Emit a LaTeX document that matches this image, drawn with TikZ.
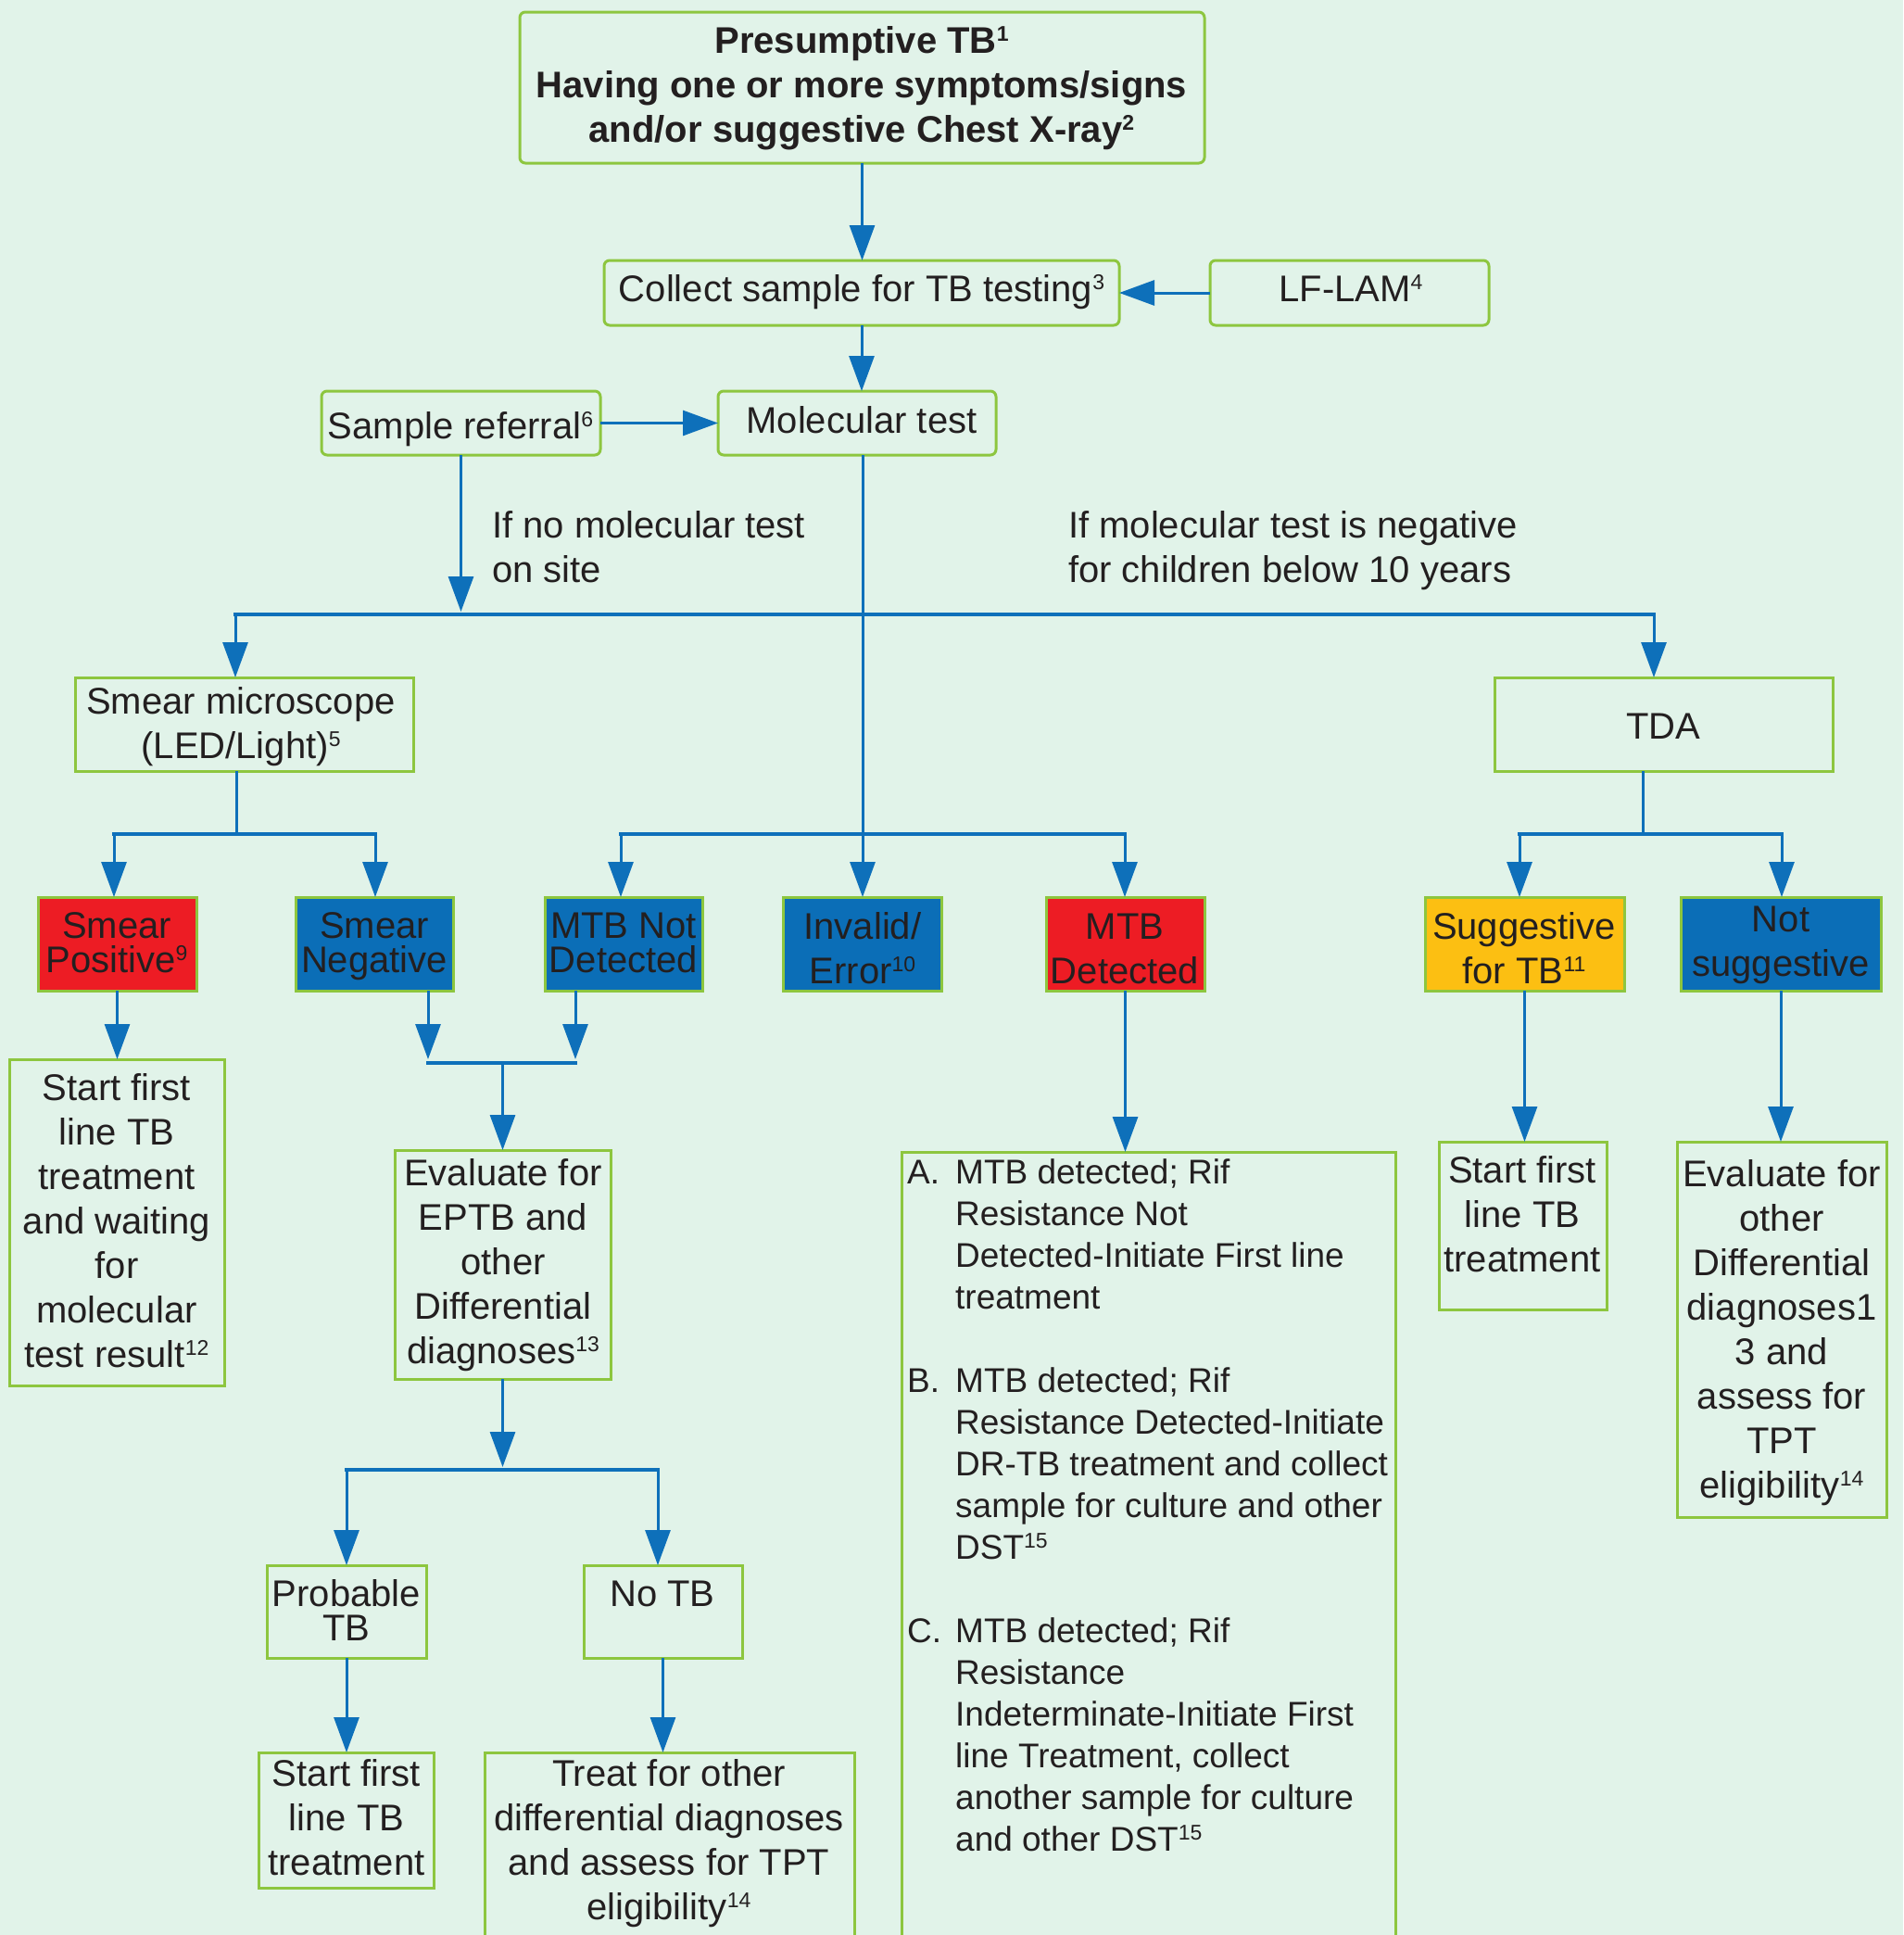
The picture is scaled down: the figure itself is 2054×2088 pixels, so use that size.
\documentclass[tikz,border=0pt]{standalone}
\usepackage{fontspec}
\setmainfont{Liberation Sans}
\usetikzlibrary{arrows.meta}
\definecolor{bg}{RGB}{225,243,233}
\definecolor{bord}{RGB}{141,198,63}
\definecolor{lineblue}{RGB}{14,112,186}
\definecolor{boxblue}{RGB}{11,110,183}
\definecolor{boxred}{RGB}{237,28,36}
\definecolor{boxyel}{RGB}{252,191,18}
\definecolor{txt}{RGB}{35,31,32}
\newcommand{\supn}[1]{\raisebox{0.6ex}{\fontsize{23}{23}\selectfont #1}}
\newcommand{\mkbox}[6]{\node[#6, minimum width={(#4)-(#2)}, minimum height={(#5)-(#3)}] (#1) at ({((#2)+(#4))/2},{((#3)+(#5))/2}) {};}
\newcommand{\ctxt}[4]{\node[anchor=base,inner sep=0pt] (#1) at (#2,#3) {\parbox[t]{900pt}{\centering #4}};}
\begin{document}
\begin{tikzpicture}[x=1pt,y=-1pt,
  every node/.style={font=\fontsize{40}{48}\selectfont, text=txt},
  bx/.style={draw=bord, line width=3pt, inner sep=0pt, outer sep=0pt},
  rbx/.style={bx, rounded corners=6pt},
  redbx/.style={bx, fill=boxred},
  bluebx/.style={bx, fill=boxblue},
  yelbx/.style={bx, fill=boxyel},
  arr/.style={draw=lineblue, line width=3pt, -{Triangle[length=38pt,width=27pt]}},
  ln/.style={draw=lineblue, line width=3pt},
  bar/.style={draw=lineblue, line width=4.5pt, line cap=rect}]
\useasboundingbox (0,0) rectangle (2054,2088);
\fill[bg] (0,0) rectangle (2054,2088);

% boxes
\mkbox{top}{561}{13}{1300}{176}{rbx}
\mkbox{collect}{652}{281}{1208}{351}{rbx}
\mkbox{lflam}{1306}{281}{1607}{351}{rbx}
\mkbox{ref}{347}{422}{648}{491}{rbx}
\mkbox{mol}{775}{422}{1075}{491}{rbx}
\mkbox{smear}{81}{731}{446}{832}{bx}
\mkbox{tda}{1613}{731}{1978}{832}{bx}
\mkbox{spos}{41}{968}{212}{1069}{redbx}
\mkbox{sneg}{319}{968}{489}{1069}{bluebx}
\mkbox{mtbnd}{588}{968}{758}{1069}{bluebx}
\mkbox{inval}{845}{968}{1016}{1069}{bluebx}
\mkbox{mtbd}{1129}{968}{1300}{1069}{redbx}
\mkbox{sugg}{1538}{968}{1753}{1069}{yelbx}
\mkbox{nsugg}{1814}{968}{2030}{1069}{bluebx}
\mkbox{startL}{10}{1143}{242}{1495}{bx}
\mkbox{evalE}{426}{1241}{659}{1488}{bx}
\mkbox{startR}{1553}{1232}{1734}{1413}{bx}
\mkbox{evalR}{1810}{1232}{2036}{1637}{bx}
\mkbox{mtbbox}{973}{1243}{1506}{2110}{bx}
\mkbox{prob}{288}{1689}{460}{1789}{bx}
\mkbox{notb}{630}{1689}{801}{1789}{bx}
\mkbox{startB}{279}{1891}{468}{2037}{bx}
\mkbox{treat}{523}{1891}{922}{2110}{bx}

% texts
\ctxt{ttop}{930}{57}{\bfseries Presumptive TB\supn{1}\\Having one or more symptoms/signs\\and/or suggestive Chest X-ray\supn{2}}
\ctxt{tcollect}{930}{325}{Collect sample for TB testing\supn{3}}
\ctxt{tlflam}{1458}{325}{LF-LAM\supn{4}}
\ctxt{tref}{497}{473}{Sample referral\supn{6}}
\ctxt{tmol}{930}{467}{Molecular test}
\node[anchor=base west,inner sep=0pt] (lab1) at (531,580) {\parbox[t]{600pt}{\raggedright If no molecular test\\on site}};
\node[anchor=base west,inner sep=0pt] (lab2) at (1153,580) {\parbox[t]{700pt}{\raggedright If molecular test is negative\\for children below 10 years}};
\ctxt{tsmear}{260}{770}{Smear microscope\\(LED/Light)\supn{5}}
\ctxt{ttda}{1795}{797}{TDA}
\ctxt{tspos}{126}{1012}{\fontsize{40}{37}\selectfont Smear\\Positive\supn{9}}
\ctxt{tsneg}{404}{1012}{\fontsize{40}{37}\selectfont Smear\\Negative}
\ctxt{tmtbnd}{673}{1012}{\fontsize{40}{37}\selectfont MTB Not\\Detected}
\ctxt{tinv}{931}{1013}{Invalid/\\Error\supn{10}}
\ctxt{tmtbd}{1214}{1013}{MTB\\Detected}
\ctxt{tsugg}{1645}{1013}{Suggestive\\for TB\supn{11}}
\ctxt{tnsugg}{1922}{1005}{Not\\suggestive}
\ctxt{tstartL}{126}{1187}{Start first\\line TB\\treatment\\and waiting\\for\\molecular\\test result\supn{12}}
\ctxt{tevalE}{543}{1279}{Evaluate for\\EPTB and\\other\\Differential\\diagnoses\supn{13}}
\ctxt{tprob}{374}{1733}{\fontsize{40}{37}\selectfont Probable\\TB}
\ctxt{tnotb}{715}{1733}{No TB}
\ctxt{tstartB}{374}{1927}{Start first\\line TB\\treatment}
\ctxt{ttreat}{722}{1927}{Treat for other\\differential diagnoses\\and assess for TPT\\eligibility\supn{14}}
\ctxt{tstartR}{1643}{1276}{Start first\\line TB\\treatment}
\ctxt{tevalR}{1923}{1280}{Evaluate for\\other\\Differential\\diagnoses1\\3 and\\assess for\\TPT\\eligibility\supn{14}}
\node[anchor=base west,inner sep=0pt,font=\fontsize{37}{45}\selectfont] (tmtblist) at (979,1277) {\parbox[t]{600pt}{\raggedright
\makebox[52pt][l]{A.}MTB detected; Rif\\
\hspace*{52pt}Resistance Not\\
\hspace*{52pt}Detected-Initiate First line\\
\hspace*{52pt}treatment\\[45pt]
\makebox[52pt][l]{B.}MTB detected; Rif\\
\hspace*{52pt}Resistance Detected-Initiate\\
\hspace*{52pt}DR-TB treatment and collect\\
\hspace*{52pt}sample for culture and other\\
\hspace*{52pt}DST\supn{15}\\[45pt]
\makebox[52pt][l]{C.}MTB detected; Rif\\
\hspace*{52pt}Resistance\\
\hspace*{52pt}Indeterminate-Initiate First\\
\hspace*{52pt}line Treatment, collect\\
\hspace*{52pt}another sample for culture\\
\hspace*{52pt}and other DST\supn{15}}};

% connectors
\draw[arr] (top.south) -- (top.south |- collect.north);
\draw[arr] (lflam.west) -- (collect.east);
\draw[arr] (collect.south) -- (collect.south |- mol.north);
\draw[arr] (ref.east) -- (mol.west);
\coordinate (b1l) at (254,663);
\coordinate (b1r) at (1785,663);
\draw[bar] (b1l) -- (b1r);
\draw[arr, shorten >=3pt] (ref.south) -- (ref.south |- b1l);
\draw[arr] (b1l) -- (b1l |- smear.north);
\draw[arr] (b1r) -- (b1r |- tda.north);
\coordinate (mtop) at (931,491);
\draw[arr] (mtop) -- (mtop |- inval.north);
\coordinate (b2l) at (670,900);
\coordinate (b2r) at (1214,900);
\draw[bar] (b2l) -- (b2r);
\draw[arr] (b2l) -- (b2l |- mtbnd.north);
\draw[arr] (b2r) -- (b2r |- mtbd.north);
\coordinate (s0) at (255,832);
\coordinate (b3l) at (123,900);
\coordinate (b3r) at (405,900);
\draw[ln] (s0) -- (s0 |- b3l);
\draw[bar] (b3l) -- (b3r);
\draw[arr] (b3l) -- (b3l |- spos.north);
\draw[arr] (b3r) -- (b3r |- sneg.north);
\coordinate (t0) at (1773,832);
\coordinate (b4l) at (1640,900);
\coordinate (b4r) at (1923,900);
\draw[ln] (t0) -- (t0 |- b4l);
\draw[bar] (b4l) -- (b4r);
\draw[arr] (b4l) -- (b4l |- sugg.north);
\draw[arr] (b4r) -- (b4r |- nsugg.north);
\draw[arr] (spos.south) -- (spos.south |- startL.north);
\coordinate (b5l) at (462,1147);
\coordinate (b5r) at (621,1147);
\draw[arr, shorten >=4pt] (b5l |- sneg.south) -- (b5l);
\draw[arr, shorten >=4pt] (b5r |- mtbnd.south) -- (b5r);
\draw[bar] (b5l) -- (b5r);
\draw[arr] (evalE.north |- b5l) -- (evalE.north);
\coordinate (b6l) at (374,1586);
\coordinate (b6r) at (710,1586);
\draw[arr, shorten >=3pt] (evalE.south) -- (evalE.south |- b6l);
\draw[bar] (b6l) -- (b6r);
\draw[arr] (b6l) -- (b6l |- prob.north);
\draw[arr] (b6r) -- (b6r |- notb.north);
\draw[arr] (prob.south) -- (prob.south |- startB.north);
\draw[arr] (notb.south) -- (notb.south |- treat.north);
\draw[arr] (mtbd.south) -- (mtbd.south |- mtbbox.north);
\draw[arr] (sugg.south) -- (sugg.south |- startR.north);
\draw[arr] (nsugg.south) -- (nsugg.south |- evalR.north);
\end{tikzpicture}
\end{document}
